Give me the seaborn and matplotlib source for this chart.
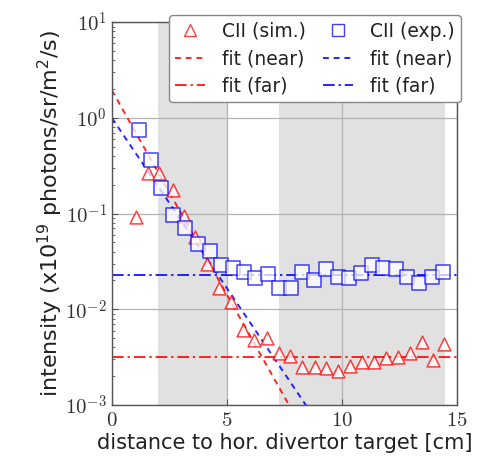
import numpy as np
import pandas as pd
import matplotlib
matplotlib.use("Agg")
import matplotlib.pyplot as plt
import seaborn as sns
from matplotlib.lines import Line2D

# ---- data ----
sim_x = [1.05, 1.56, 2.06, 2.65, 3.14, 3.62, 4.13, 4.64, 5.18, 5.70, 6.16, 6.75, 7.25, 7.73,
         8.27, 8.81, 9.32, 9.83, 10.35, 10.86, 11.40, 11.91, 12.42, 12.95, 13.48, 13.94, 14.45]
sim_y = [0.093, 0.263, 0.267, 0.176, 0.095, 0.057, 0.0297, 0.0166, 0.012, 0.00607, 0.00478,
         0.00498, 0.00347, 0.00325, 0.0025, 0.0025, 0.00245, 0.00228, 0.00258, 0.00283,
         0.00283, 0.00307, 0.0032, 0.00347, 0.00458, 0.00295, 0.00433]
exp_x = [1.18, 1.70, 2.14, 2.66, 3.18, 3.74, 4.27, 4.75, 5.26, 5.76, 6.24, 6.77, 7.28, 7.79,
         8.27, 8.78, 9.29, 9.84, 10.31, 10.82, 11.33, 11.80, 12.34, 12.85, 13.36, 13.90, 14.41]
exp_y = [0.745, 0.36, 0.184, 0.096, 0.0706, 0.0476, 0.0406, 0.029, 0.0268, 0.0243, 0.021,
         0.0233, 0.0166, 0.0166, 0.0247, 0.0202, 0.0263, 0.0219, 0.021, 0.0237, 0.029,
         0.0268, 0.0263, 0.0216, 0.0187, 0.0219, 0.0243]

# fit parameters: near = amplitude * 10**(-x/decade_length), far = constant level
sim_near_amp, sim_near_decade = 1.95, 2.34
exp_near_amp, exp_near_decade = 1.0, 2.81
sim_far_level = 0.00315
exp_far_level = 0.0228
fit_x = [0.0, 15.0]

shade_spans = [(2.0, 5.05), (7.25, 14.5)]

# ---- build tables ----
fx = np.linspace(fit_x[0], fit_x[1], 200)
fits = pd.DataFrame({
    "x": np.concatenate([fx, fx, fx, fx]),
    "y": np.concatenate([sim_near_amp * 10 ** (-fx / sim_near_decade),
                         exp_near_amp * 10 ** (-fx / exp_near_decade),
                         np.full_like(fx, sim_far_level),
                         np.full_like(fx, exp_far_level)]),
    "fit": ["sn"] * 200 + ["en"] * 200 + ["sf"] * 200 + ["ef"] * 200,
})
sim = pd.DataFrame({"x": sim_x, "y": sim_y})
exp = pd.DataFrame({"x": exp_x, "y": exp_y})

sns.set_style("ticks")
plt.rcParams["font.family"] = ["DejaVu Sans"]

fig = plt.figure(figsize=(4.82, 4.72), dpi=100)
ax = fig.add_axes([0.232, 0.142, 0.716, 0.811])

for a, b in shade_spans:
    ax.axvspan(a, b, color="#e1e1e1", lw=0, zorder=0)

ax.set_yscale("log")
ax.grid(True, which="major", color="#b4b4b4", lw=0.9, zorder=0.5)
ax.set_axisbelow(True)

styles = {"sn": ("red", (0, (3, 2.5))), "en": ("blue", (0, (3, 2.5))),
          "sf": ("red", (0, (6, 2, 1.2, 2))), "ef": ("blue", (0, (6, 2, 1.2, 2)))}
lines = {}
for key, (c, ls) in styles.items():
    d = fits[fits["fit"] == key]
    sns.lineplot(data=d, x="x", y="y", ax=ax, color=c, lw=1.4, alpha=0.85, zorder=2)
    ax.lines[-1].set_linestyle(ls)
    lines[key] = ax.lines[-1]

sns.scatterplot(data=sim, x="x", y="y", ax=ax, marker="^", s=85, facecolor="white",
                edgecolor="red", linewidth=1.1, alpha=0.75, zorder=3)
sns.scatterplot(data=exp, x="x", y="y", ax=ax, marker="s", s=110, facecolor="white",
                edgecolor="blue", linewidth=1.1, alpha=0.75, zorder=3)

ax.set_xlim(0, 15)
ax.set_ylim(1e-3, 1e1)
ax.set_xticks([0, 5, 10, 15])
ax.set_xticklabels([r"$0$", r"$5$", r"$10$", r"$15$"])
ax.set_yticks([1e-3, 1e-2, 1e-1, 1e0, 1e1])
ax.set_yticklabels([r"$10^{-3}$", r"$10^{-2}$", r"$10^{-1}$", r"$10^{0}$", r"$10^{1}$"])
for t in ax.get_xticklabels() + ax.get_yticklabels():
    t.set_math_fontfamily("cm")
    t.set_fontsize(15)
ax.tick_params(which="both", direction="in", top=False, right=False, colors="#555555",
               labelcolor="#333333")
ax.tick_params(which="major", length=4)
ax.tick_params(which="minor", length=2)
for s in ax.spines.values():
    s.set_color("#555555")
    s.set_linewidth(1.0)

ax.set_xlabel("distance to hor. divertor target [cm]", fontsize=15, color="#222222", labelpad=2)
ax.set_ylabel(r"intensity (x10$^{19}$ photons/sr/m$^{2}$/s)", fontsize=16, color="#222222",
              labelpad=0)

h_sim = Line2D([], [], marker="^", ls="none", mfc="white", mec="red", ms=9, alpha=0.75)
h_exp = Line2D([], [], marker="s", ls="none", mfc="white", mec="blue", ms=9, alpha=0.75)
handles = [h_sim, lines["sn"], lines["sf"], h_exp, lines["en"], lines["ef"]]
labels = ["CII (sim.)", "fit (near)", "fit (far)", "CII (exp.)", "fit (near)", "fit (far)"]
leg = ax.legend(handles, labels, ncol=2, loc="upper right", bbox_to_anchor=(1.012, 1.018),
                borderaxespad=0, fontsize=13.5, frameon=True, fancybox=True, handlelength=1.6,
                columnspacing=0.9, labelspacing=0.45, borderpad=0.35, handletextpad=0.9)
leg.get_frame().set_edgecolor("#888888")
leg.get_frame().set_linewidth(1.0)
leg.get_frame().set_alpha(1.0)
for t in leg.get_texts():
    t.set_color("#222222")

fig.savefig("out.png", dpi=100)
